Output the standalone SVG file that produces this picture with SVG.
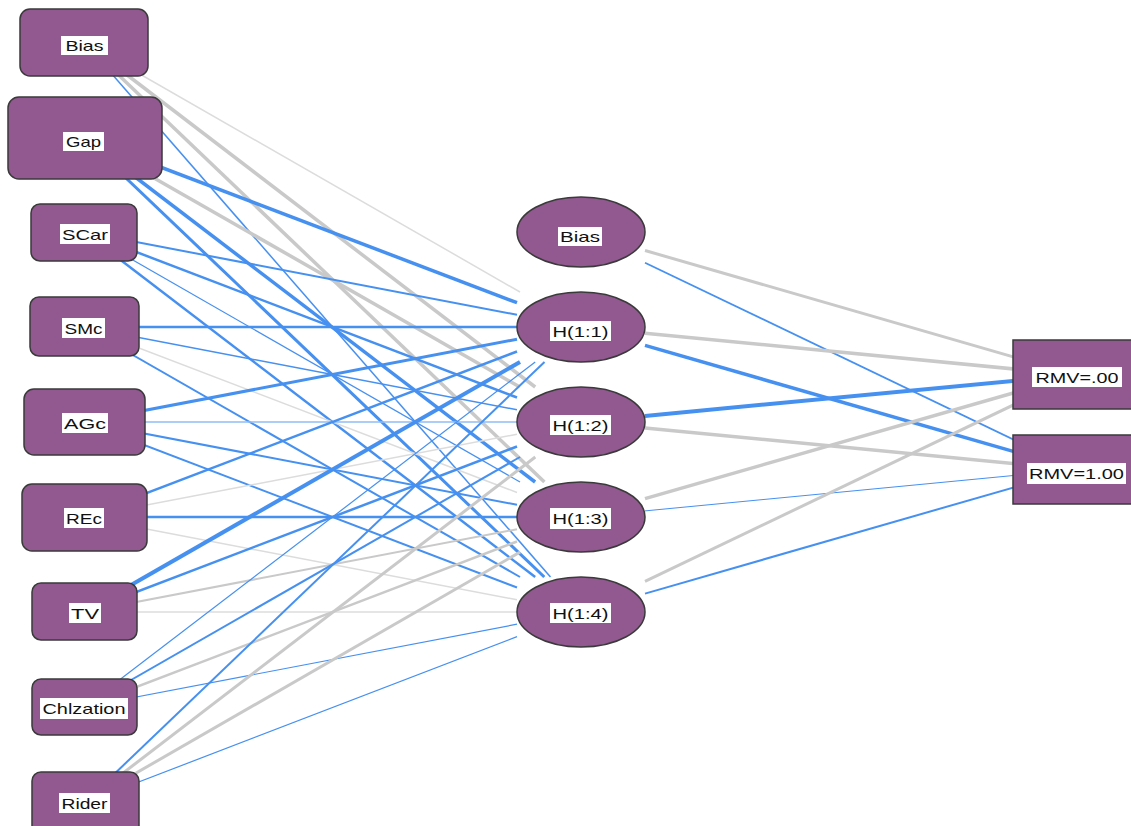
<svg xmlns="http://www.w3.org/2000/svg" width="1131" height="826" viewBox="0 0 1131 826">
<style>
.b{stroke:#4690f0;fill:none}
.g{stroke:#c9c9c9;fill:none}
.lb{stroke:#8fbdf5;fill:none}
.lg{stroke:#dcdcdc;fill:none}
.box{fill:#925890;stroke:#3a3a3a;stroke-width:1.5}
.lab{fill:#ffffff}
text{font-family:"Liberation Sans",Arial,sans-serif;font-size:15px;fill:#111;text-anchor:middle}
</style>
<rect width="1131" height="826" fill="#ffffff"/>
<g id="connectors">
<!-- Bias -->
<line class="lg" x1="84" y1="42" x2="520" y2="292" stroke-width="1.5"/>
<line class="g" x1="84" y1="42" x2="535.2" y2="387" stroke-width="3.5"/>
<line class="g" x1="84" y1="42" x2="544.4" y2="482" stroke-width="3.5"/>
<line class="b" x1="84" y1="42" x2="550.5" y2="577" stroke-width="1.5"/>
<!-- Gap -->
<line class="b" x1="84" y1="138" x2="517" y2="302.7" stroke-width="3.5"/>
<line class="g" x1="84" y1="138" x2="519.8" y2="387" stroke-width="3.5"/>
<line class="b" x1="84" y1="138" x2="535.1" y2="482" stroke-width="3.5"/>
<line class="b" x1="84" y1="138" x2="544.3" y2="577" stroke-width="3"/>
<!-- SCar -->
<line class="b" x1="84" y1="232" x2="517" y2="314.8" stroke-width="2"/>
<line class="b" x1="84" y1="232" x2="517" y2="397.5" stroke-width="2.5"/>
<line class="b" x1="84" y1="232" x2="520" y2="482" stroke-width="1.2"/>
<line class="b" x1="84" y1="232" x2="535.2" y2="577" stroke-width="2.5"/>
<!-- SMc -->
<line class="b" x1="84" y1="327" x2="517" y2="327" stroke-width="2.5"/>
<line class="b" x1="84" y1="327" x2="517" y2="409.8" stroke-width="1.5"/>
<line class="lg" x1="84" y1="327" x2="517" y2="492.5" stroke-width="1.5"/>
<line class="b" x1="84" y1="327" x2="520" y2="577" stroke-width="2"/>
<!-- AGc -->
<line class="b" x1="84" y1="422" x2="517" y2="339.2" stroke-width="3"/>
<line class="lb" x1="84" y1="422" x2="517" y2="422" stroke-width="1.5"/>
<line class="b" x1="84" y1="422" x2="517" y2="504.8" stroke-width="2"/>
<line class="b" x1="84" y1="422" x2="517" y2="587.5" stroke-width="2"/>
<!-- REc -->
<line class="b" x1="84" y1="517" x2="517" y2="351.5" stroke-width="2.5"/>
<line class="lg" x1="84" y1="517" x2="517" y2="434.2" stroke-width="1.5"/>
<line class="b" x1="84" y1="517" x2="517" y2="517" stroke-width="2.5"/>
<line class="lg" x1="84" y1="517" x2="517" y2="599.8" stroke-width="1.5"/>
<!-- TV -->
<line class="b" x1="84" y1="612" x2="520" y2="362" stroke-width="4"/>
<line class="b" x1="84" y1="612" x2="517" y2="446.5" stroke-width="2.5"/>
<line class="g" x1="84" y1="612" x2="517" y2="529.2" stroke-width="2"/>
<line class="lg" x1="84" y1="612" x2="517" y2="612" stroke-width="1.3"/>
<!-- Chlzation -->
<line class="b" x1="84" y1="707" x2="535.2" y2="362" stroke-width="1.2"/>
<line class="b" x1="84" y1="707" x2="520" y2="457" stroke-width="2"/>
<line class="g" x1="84" y1="707" x2="517" y2="541.5" stroke-width="2.5"/>
<line class="b" x1="84" y1="707" x2="517" y2="624.2" stroke-width="1.2"/>
<!-- Rider -->
<line class="b" x1="84" y1="803" x2="544.5" y2="362" stroke-width="2"/>
<line class="g" x1="84" y1="803" x2="535.3" y2="457" stroke-width="3"/>
<line class="g" x1="84" y1="803" x2="520.2" y2="552" stroke-width="3"/>
<line class="b" x1="84" y1="803" x2="517" y2="636.6" stroke-width="1.2"/>
<!-- hidden to output -->
<line class="g" x1="645" y1="250.5" x2="1076" y2="375" stroke-width="3"/>
<line class="b" x1="645" y1="262.7" x2="1076" y2="469.5" stroke-width="1.8"/>
<line class="g" x1="645" y1="333.2" x2="1076" y2="375" stroke-width="3.5"/>
<line class="b" x1="645" y1="345.4" x2="1076" y2="469.5" stroke-width="3.5"/>
<line class="b" x1="645" y1="415.9" x2="1076" y2="375" stroke-width="4"/>
<line class="g" x1="645" y1="428.1" x2="1076" y2="469.5" stroke-width="3.5"/>
<line class="g" x1="645" y1="498.6" x2="1076" y2="375" stroke-width="3.5"/>
<line class="b" x1="645" y1="510.9" x2="1076" y2="469.5" stroke-width="1"/>
<line class="g" x1="645" y1="581.4" x2="1076" y2="375" stroke-width="3"/>
<line class="b" x1="645" y1="593.6" x2="1076" y2="469.5" stroke-width="2"/>
</g>
<g id="in-bias"><rect class="box" x="20" y="9" width="128" height="67" rx="10"/><rect class="lab" x="61" y="36" width="47" height="19"/><text x="84.5" y="51" textLength="38" lengthAdjust="spacingAndGlyphs">Bias</text></g>
<g id="in-gap"><rect class="box" x="8" y="97" width="154" height="82" rx="11"/><rect class="lab" x="63" y="132" width="41" height="19"/><text x="83.5" y="147" textLength="35" lengthAdjust="spacingAndGlyphs">Gap</text></g>
<g id="in-scar"><rect class="box" x="31" y="204" width="106" height="57" rx="9"/><rect class="lab" x="60" y="224" width="50" height="20"/><text x="85" y="239.5" textLength="46" lengthAdjust="spacingAndGlyphs">SCar</text></g>
<g id="in-smc"><rect class="box" x="30" y="297" width="109" height="59" rx="9"/><rect class="lab" x="62" y="318" width="43" height="20"/><text x="83.5" y="333.5" textLength="38" lengthAdjust="spacingAndGlyphs">SMc</text></g>
<g id="in-agc"><rect class="box" x="24" y="389" width="121" height="66" rx="10"/><rect class="lab" x="62" y="413" width="46" height="20"/><text x="85" y="428.5" textLength="42" lengthAdjust="spacingAndGlyphs">AGc</text></g>
<g id="in-rec"><rect class="box" x="22" y="484" width="125" height="67" rx="10"/><rect class="lab" x="64" y="508" width="40" height="20"/><text x="84" y="523.5" textLength="36" lengthAdjust="spacingAndGlyphs">REc</text></g>
<g id="in-tv"><rect class="box" x="32" y="583" width="105" height="57" rx="9"/><rect class="lab" x="69" y="603" width="32" height="20"/><text x="85" y="618.5" textLength="28" lengthAdjust="spacingAndGlyphs">TV</text></g>
<g id="in-chlzation"><rect class="box" x="32" y="679" width="105" height="56" rx="9"/><rect class="lab" x="40" y="698" width="88" height="21"/><text x="84" y="714" textLength="83" lengthAdjust="spacingAndGlyphs">Chlzation</text></g>
<g id="in-rider"><rect class="box" x="32" y="772" width="107" height="64" rx="9"/><rect class="lab" x="59" y="793" width="51" height="20"/><text x="84.5" y="808.5" textLength="46" lengthAdjust="spacingAndGlyphs">Rider</text></g>
<g id="hid-bias"><ellipse class="box" cx="581" cy="232" rx="64" ry="35"/><rect class="lab" x="558" y="227" width="44" height="19"/><text x="580" y="242" textLength="40" lengthAdjust="spacingAndGlyphs">Bias</text></g>
<g id="hid-h11"><ellipse class="box" cx="581" cy="327" rx="64" ry="35"/><rect class="lab" x="550" y="321" width="61" height="20"/><text x="580.5" y="336.5" textLength="56" lengthAdjust="spacingAndGlyphs">H(1:1)</text></g>
<g id="hid-h12"><ellipse class="box" cx="581" cy="422" rx="64" ry="35"/><rect class="lab" x="550" y="415" width="61" height="20"/><text x="580.5" y="430.5" textLength="56" lengthAdjust="spacingAndGlyphs">H(1:2)</text></g>
<g id="hid-h13"><ellipse class="box" cx="581" cy="517" rx="64" ry="35"/><rect class="lab" x="550" y="508" width="61" height="21"/><text x="580.5" y="524" textLength="56" lengthAdjust="spacingAndGlyphs">H(1:3)</text></g>
<g id="hid-h14"><ellipse class="box" cx="581" cy="612" rx="64" ry="35"/><rect class="lab" x="550" y="603" width="61" height="20"/><text x="580.5" y="618.5" textLength="56" lengthAdjust="spacingAndGlyphs">H(1:4)</text></g>
<g id="out-rmv0"><rect class="box" x="1013" y="340" width="126" height="69"/><rect class="lab" x="1032" y="367" width="90" height="20"/><text x="1077" y="382.5" textLength="83" lengthAdjust="spacingAndGlyphs">RMV=.00</text></g>
<g id="out-rmv1"><rect class="box" x="1013" y="435" width="126" height="69"/><rect class="lab" x="1027" y="463" width="99" height="21"/><text x="1076.5" y="479" textLength="95" lengthAdjust="spacingAndGlyphs">RMV=1.00</text></g>
</svg>
